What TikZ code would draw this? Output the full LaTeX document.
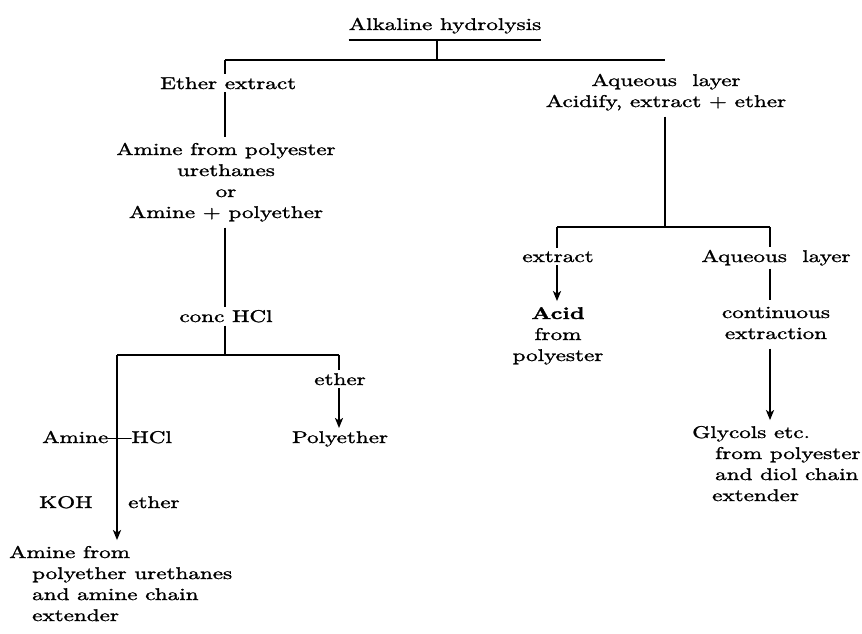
\documentclass[tikz,border=0pt]{standalone}
\usepackage{fontspec}
\setmainfont{lmroman10-regular.otf}[BoldFont=lmroman10-bold.otf, ItalicFont=lmroman10-italic.otf, FakeStretch=1.36, FakeBold=1.4]
\usetikzlibrary{arrows.meta,calc}
\begin{document}
\begin{tikzpicture}[x=1pt,y=-1pt,
  txt/.style={inner sep=3pt, font=\fontsize{17}{21}\selectfont, anchor=base},
  ln/.style={line width=1.9pt},
  thinln/.style={line width=1.3pt},
  arr/.style={ln,-{Stealth[length=10pt,width=8pt,inset=2.5pt]}}]
\useasboundingbox (0,0) rectangle (862,633);

% top
\node[txt] (title) at (445,30) {Alkaline hydrolysis};
\draw[thinln] ($(title.base west)+(3,10)$) -- ($(title.base east)+(-3,10)$);
\coordinate (ul) at (437,40);
\coordinate (hL) at (225,60);
\coordinate (hR) at (665,60);
\coordinate (tk) at (437,60);
\draw[ln] (hL) -- (hR);
\draw[thinln] (ul) -- (tk);

% left column
\node[txt, anchor=base west] (ethx) at (157,89) {Ether extract};
\draw[ln] (hL) -- (hL |- ethx.north);
\node[txt] (amA) at (226,155) {\begin{tabular}[t]{@{}c@{}}Amine from polyester\\urethanes\\or\\Amine + polyether\end{tabular}};
\draw[ln] (hL |- ethx.south) -- (hL |- amA.north);
\node[txt] (conc) at (226,322) {conc HCl};
\draw[ln] (amA.south -| hL) -- (conc.north -| hL);
\coordinate (s2) at (225,355);
\coordinate (s2L) at (117,355);
\coordinate (s2R) at (339,355);
\draw[ln] (conc.south -| hL) -- (s2);
\draw[ln] (s2L) -- (s2R);

\node[txt, anchor=base west] (amhcl) at (39,443) {Amine\textemdash HCl};
\node[txt, anchor=base west] (koh) at (36,508) {KOH};
\node[txt, anchor=base west] (eth3) at (125,508) {ether};
\node[txt, anchor=base west] (amfrom) at (6,558) {\begin{tabular}[t]{@{}l@{}}Amine from\\\hspace{23pt}polyether urethanes\\\hspace{23pt}and amine chain\\\hspace{23pt}extender\end{tabular}};
\draw[arr] (s2L) -- (s2L |- amfrom.north);

\node[txt] (eth2) at (340,385) {ether};
\node[txt] (polyeth) at (340,443) {Polyether};
\draw[ln] (s2R) -- (s2R |- eth2.north);
\draw[arr] (s2R |- eth2.south) -- (s2R |- polyeth.north);

% right column
\node[txt] (aqA) at (666,86) {\begin{tabular}[t]{@{}c@{}}Aqueous\ \ layer\\Acidify, extract + ether\end{tabular}};
\coordinate (r2) at (665,227);
\coordinate (r2L) at (557,227);
\coordinate (r2R) at (770,227);
\draw[ln] (aqA.south -| r2) -- (r2);
\draw[ln] (r2L) -- (r2R);

\node[txt] (extr) at (558,262) {extract};
\draw[ln] (r2L) -- (r2L |- extr.north);
\node[txt] (acid) at (558,319) {\begin{tabular}[t]{@{}c@{}}\textbf{Acid}\\from\\polyester\end{tabular}};
\draw[arr] (r2L |- extr.south) -- (r2L |- acid.north);

\node[txt] (aqB) at (776,262) {Aqueous\ \ layer};
\draw[ln] (r2R) -- (r2R |- aqB.north);
\node[txt] (cont) at (776,318) {\begin{tabular}[t]{@{}c@{}}continuous\\extraction\end{tabular}};
\draw[ln] (r2R |- aqB.south) -- (r2R |- cont.north);
\node[txt, anchor=base west] (gly) at (689,438) {\begin{tabular}[t]{@{}l@{}}Glycols etc.\\\hspace{23pt}from polyester\\\hspace{23pt}and diol chain\\\hspace{20pt}extender\end{tabular}};
\draw[arr] (r2R |- cont.south) -- (r2R |- gly.north);
\end{tikzpicture}
\end{document}
